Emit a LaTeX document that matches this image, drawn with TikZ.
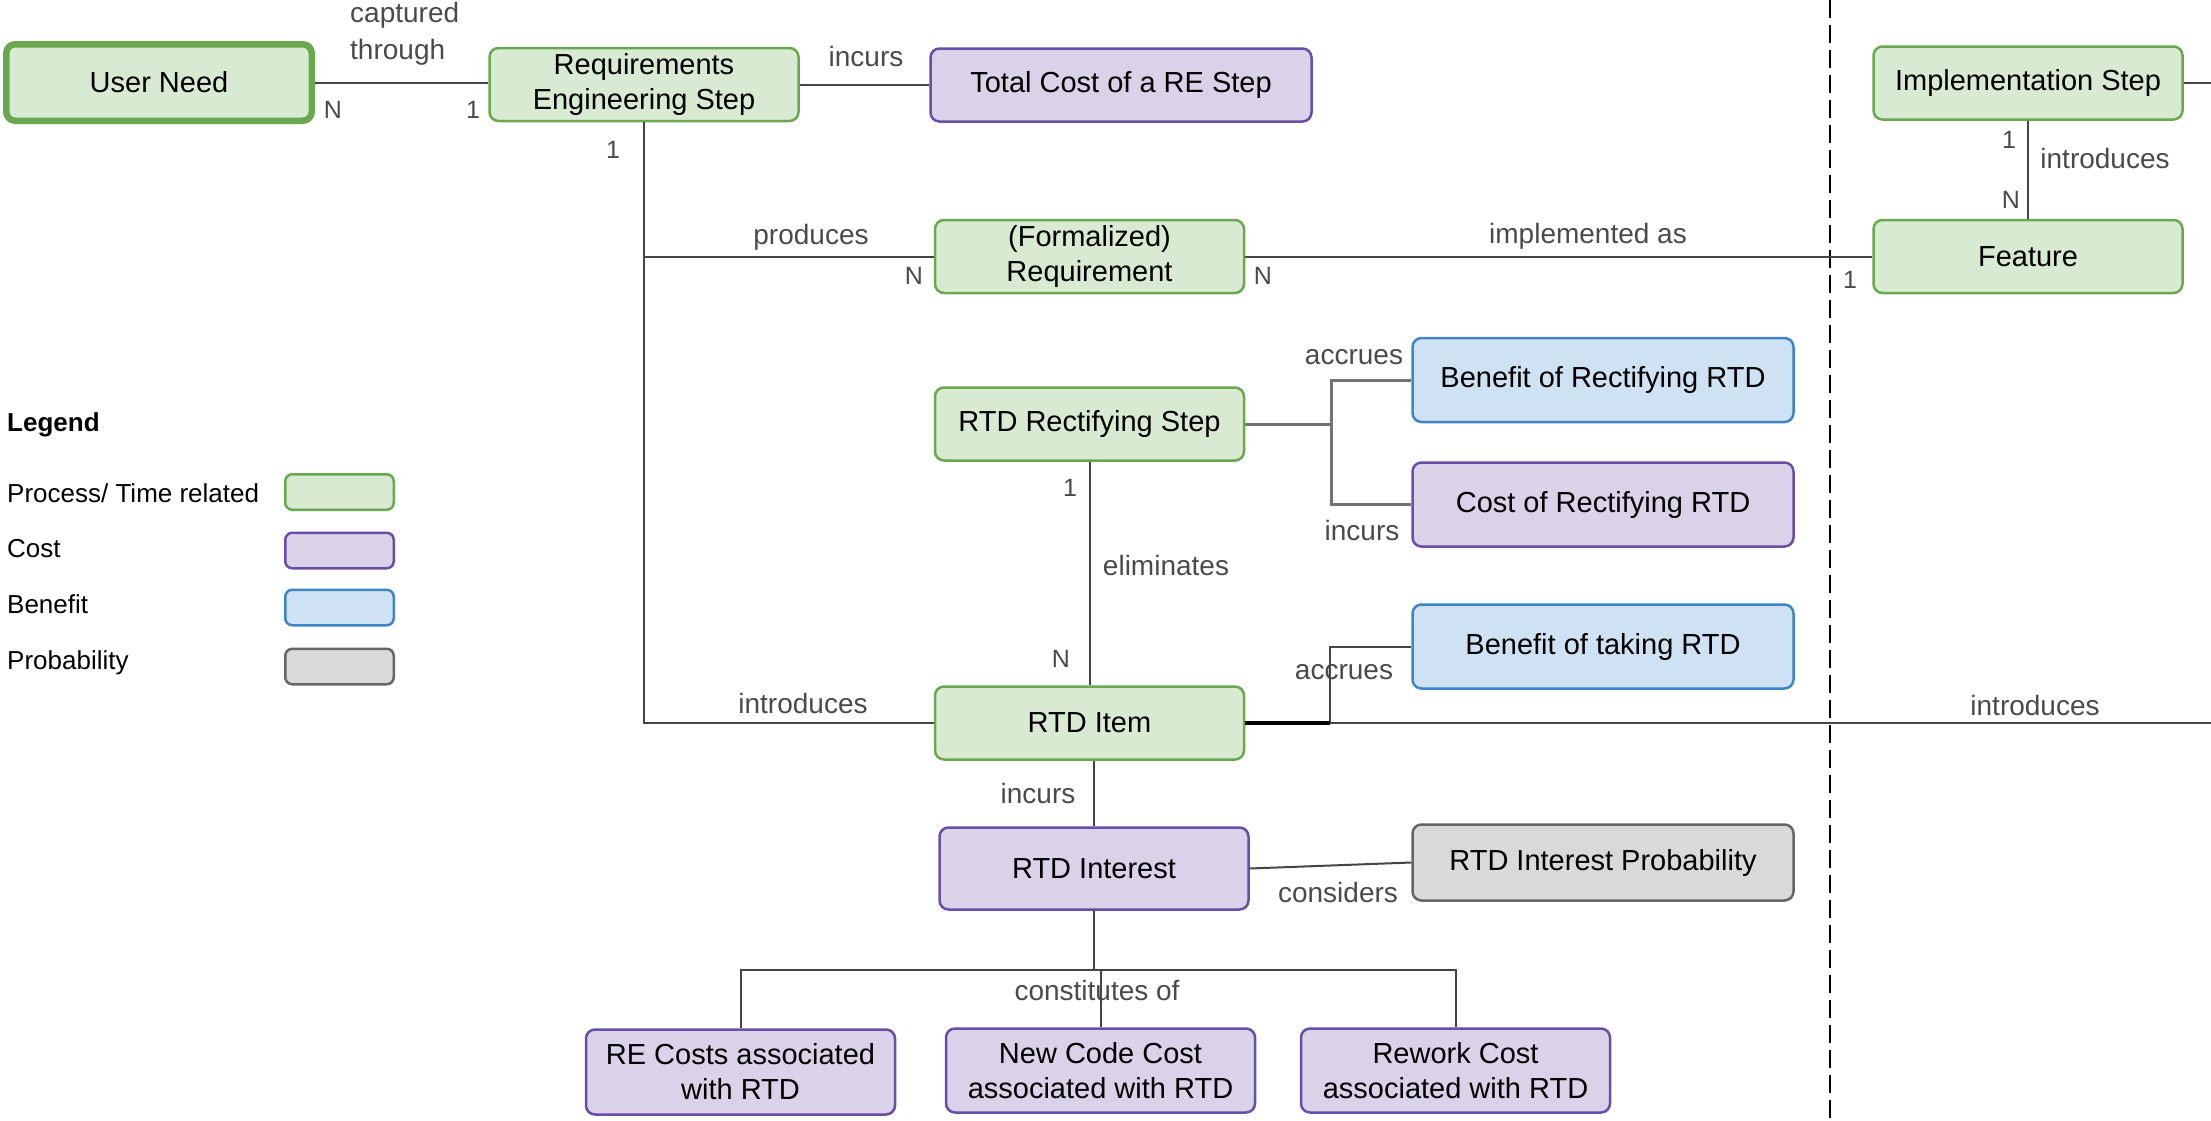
\documentclass[tikz,border=0pt]{standalone}
\usepackage{fontspec}
\setmainfont{Liberation Sans}
\definecolor{procF}{HTML}{D9EAD3}
\definecolor{procD}{HTML}{6AA84F}
\definecolor{costF}{HTML}{D9D2E9}
\definecolor{costD}{HTML}{674EA7}
\definecolor{beneF}{HTML}{CFE2F3}
\definecolor{beneD}{HTML}{3D85C6}
\definecolor{probF}{HTML}{D9D9D9}
\definecolor{probD}{HTML}{666666}
\definecolor{lineC}{HTML}{444444}
\definecolor{lblC}{HTML}{4A4A4A}
\begin{document}
\begin{tikzpicture}[x=1pt,y=-1pt,
  box/.style={draw, rounded corners=9pt, line width=2.5pt, align=center,
    inner sep=0pt, font=\fontsize{29}{35}\selectfont, text=black},
  procbox/.style={box, draw=procD, fill=procF},
  costbox/.style={box, draw=costD, fill=costF},
  benebox/.style={box, draw=beneD, fill=beneF},
  probbox/.style={box, draw=probD, fill=probF},
  std/.style={minimum width=309pt, minimum height=73pt},
  wide/.style={minimum width=381pt, minimum height=84pt},
  swatch/.style={box, rounded corners=7pt, minimum width=108.5pt, minimum height=35.5pt},
  link/.style={draw=lineC, line width=2pt},
  bracket/.style={draw=black!55, line width=3pt},
  lbl/.style={text=lblC, font=\fontsize{28}{37}\selectfont, inner sep=0pt, align=center},
  mult/.style={text=lblC, font=\fontsize{25}{30}\selectfont, inner sep=0pt},
  legtext/.style={font=\fontsize{26}{30}\selectfont, anchor=west, inner sep=0pt},
  phase/.style={draw=black, line width=2.7pt, dash pattern=on 18pt off 7pt},
]
\useasboundingbox (0,0) rectangle (2211,1120);

% ---- entities ----
\node[procbox, line width=6.5pt, minimum width=305.5pt, minimum height=76.5pt] (usr) at (159,82.5) {User Need};
\node[procbox, std] (reqeng) at (644,84.5) {Requirements\\Engineering Step};
\node[costbox, std, minimum width=381pt] (totalcost) at (1121,85) {Total Cost of a RE Step};
\node[procbox, std] (impl) at (2028,83) {Implementation Step};
\node[procbox, std] (formreq) at (1089.5,256.5) {(Formalized)\\Requirement};
\node[procbox, std] (feature) at (2028,256.5) {Feature};
\node[procbox, std] (rectstep) at (1089.5,424) {RTD Rectifying Step};
\node[benebox, wide] (benrect) at (1603,380) {Benefit of Rectifying RTD};
\node[costbox, wide] (costrect) at (1603,504.5) {Cost of Rectifying RTD};
\node[benebox, wide] (bentake) at (1603,646.5) {Benefit of taking RTD};
\node[procbox, std] (rtditem) at (1089.5,723) {RTD Item};
\node[costbox, std, minimum height=82pt] (interest) at (1094,868.5) {RTD Interest};
\node[probbox, wide, minimum height=76pt] (prob) at (1603,862.5) {RTD Interest Probability};
\node[costbox, std, minimum height=85pt] (recost) at (740.5,1072) {RE Costs associated\\with RTD};
\node[costbox, std, minimum height=84pt] (newcode) at (1100.5,1070.5) {New Code Cost\\associated with RTD};
\node[costbox, std, minimum height=84pt] (rework) at (1455.5,1070.5) {Rework Cost\\associated with RTD};

% ---- phase separator ----
\coordinate (dtop) at (1830,0);
\coordinate (dbot) at (1830,1120);
\draw[phase] (dtop) -- (dbot);

% ---- relations ----
\draw[link] (usr.east) -- (usr.east -| reqeng.west);
\draw[link] (reqeng.east) -- ++(65,0) |- (totalcost.west);
\draw[link] (reqeng.south) |- (formreq.west);
\draw[link] (reqeng.south) |- (rtditem.west);
\draw[link] (formreq.east) -- (feature.west);
\draw[link] (impl.south) -- (feature.north);
\coordinate (implout) at (2211,83);
\draw[link] (impl.east) -- (implout);
\draw[link] (rectstep.south) -- (rtditem.north);

\coordinate (rbr) at (1331,424);
\draw[bracket] (rectstep.east) -- (rbr);
\draw[bracket] (benrect.west) -| (rbr) |- (costrect.west);

\coordinate (ibr) at (1330,723);
\coordinate (itemout) at (2211,723);
\draw[link] (ibr) |- (bentake.west);
\draw[link] (ibr) -- (itemout);
\draw[draw=black, line width=3.5pt] (rtditem.east) -- (ibr);

\draw[link] (interest.north |- rtditem.south) -- (interest.north);
\draw[link] (interest.east) -- (prob.west);
\path (interest.south) ++(0,59) coordinate (cj);
\draw[link] (interest.south) -- (cj);
\draw[link] (recost.north) |- (cj) -| (rework.north);
\draw[link] (newcode.north) -- (newcode.north |- cj);

% ---- relation labels ----
\node[lbl, align=left, anchor=west] (lcap) at (350,34) {captured\\through};
\node[mult] (m1) at (333,110) {N};
\node[mult] (m2) at (473,110) {1};
\node[lbl] (linc1) at (866,56) {incurs};
\node[mult] (m3) at (613,150) {1};
\node[lbl] (lprod) at (811,237) {produces};
\node[mult] (m4) at (914,276) {N};
\node[mult] (m5) at (1263,276) {N};
\node[lbl] (limpl) at (1588,236) {implemented as};
\node[mult] (m6) at (1850,280) {1};
\node[mult] (m7) at (2009,140) {1};
\node[mult] (m8) at (2011,200) {N};
\node[lbl] (lintro1) at (2105,158) {introduces};
\node[lbl] (lacc1) at (1354,357) {accrues};
\node[lbl] (linc2) at (1362,530) {incurs};
\node[mult] (m9) at (1070,488) {1};
\node[lbl] (lelim) at (1166,565) {eliminates};
\node[mult] (m10) at (1061,659) {N};
\node[lbl] (lacc2) at (1344,672) {accrues};
\node[lbl] (lintro2) at (803,703) {introduces};
\node[lbl] (lintro3) at (2035,705) {introduces};
\node[lbl] (linc3) at (1038,793) {incurs};
\node[lbl] (lcons) at (1338,892) {considers};
\node[lbl] (lconst) at (1097,990) {constitutes of};

% ---- legend ----
\node[legtext, font=\fontsize{26}{30}\selectfont\bfseries] (leg) at (7,425) {Legend};
\node[legtext] (legp) at (7,493) {Process/ Time related};
\node[legtext] (legc) at (7,549) {Cost};
\node[legtext] (legb) at (7,604) {Benefit};
\node[legtext] (legq) at (7,663) {Probability};
\node[procbox, swatch] (swp) at (339.5,492) {};
\node[costbox, swatch] (swc) at (339.5,550.5) {};
\node[benebox, swatch] (swb) at (339.5,607.5) {};
\node[probbox, swatch] (swq) at (339.5,666.5) {};
\end{tikzpicture}
\end{document}
